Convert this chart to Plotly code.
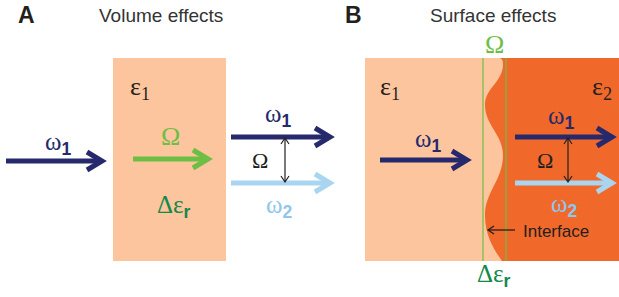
import plotly.graph_objects as go

# ---- content ----
panel_letters = ["A", "B"]
panel_titles = ["Volume effects", "Surface effects"]
SUBF = "<span style='font-family:Liberation Sans;font-weight:bold'>{}</span>"
greek_omega1 = "ω<sub>" + SUBF.format("1") + "</sub>"
greek_omega2 = "ω<sub>" + SUBF.format("2") + "</sub>"
greek_Omega = "Ω"
eps1 = "ε<sub>1</sub>"
eps2 = "ε<sub>2</sub>"
delta_eps = "Δε<sub>" + SUBF.format("r") + "</sub>"
interface_label = "Interface"

NAVY = "#262A6C"
GREEN = "#6DBE45"
DGREEN = "#13894A"
LBLUE = "#A9D5F1"
LBLUE_T = "#8EC6EC"
PEACH = "#FCC59D"
ORANGE = "#F0692A"
TXT = "#231F20"

fig = go.Figure()
shapes = []
ann = []

def rect(x0, y0, x1, y1, color):
    shapes.append(dict(type="rect", x0=x0, y0=y0, x1=x1, y1=y1,
                       fillcolor=color, line=dict(width=0), layer="below"))

def arrow(x0, x1, y, color, w=5, hx=15, hy=9):
    shapes.append(dict(type="line", x0=x0, y0=y, x1=x1 - 3, y1=y,
                       line=dict(color=color, width=w)))
    shapes.append(dict(type="path",
                       path=f"M {x1-hx},{y-hy} L {x1},{y} L {x1-hx},{y+hy}",
                       line=dict(color=color, width=w)))

def darrow(x, y0, y1, color):
    shapes.append(dict(type="line", x0=x, y0=y0, x1=x, y1=y1,
                       line=dict(color=color, width=1.2)))
    shapes.append(dict(type="path", path=f"M {x-4},{y0+6} L {x},{y0} L {x+4},{y0+6}",
                       line=dict(color=color, width=1.2)))
    shapes.append(dict(type="path", path=f"M {x-4},{y1-6} L {x},{y1} L {x+4},{y1-6}",
                       line=dict(color=color, width=1.2)))

def text(x, y, s, size, color=TXT, family="Liberation Serif", xanchor="center"):
    ann.append(dict(x=x, y=y, text=s, showarrow=False, xanchor=xanchor, yanchor="middle",
                    font=dict(size=size, color=color, family=family)))

OM = 25   # omega size
EP = 26   # epsilon size
GO = 26   # green Omega size
BO = 22   # black Omega size
DE = 25   # delta-eps size

# ---------- Panel A ----------
text(26, 15, f"<b>{panel_letters[0]}</b>", 23, family="Liberation Sans")
text(161, 15, panel_titles[0], 19, color="#333", family="Liberation Sans")
rect(113, 58, 226, 261, PEACH)
text(140, 88, eps1, EP)
arrow(6, 102, 161, NAVY)
text(58, 143, greek_omega1, OM, color=NAVY)
arrow(133, 208, 159, GREEN)
text(170, 136, greek_Omega, GO, color=GREEN)
text(174, 206, delta_eps, DE, color=DGREEN)
arrow(231, 330, 137, NAVY)
text(278, 115, greek_omega1, OM, color=NAVY)
arrow(231, 330, 183, LBLUE)
text(279, 206, greek_omega2, OM, color=LBLUE_T)
darrow(285, 138, 182, TXT)
text(260, 160, greek_Omega, BO, color=TXT)

# ---------- Panel B ----------
text(353, 15, f"<b>{panel_letters[1]}</b>", 23, family="Liberation Sans")
text(493, 15, panel_titles[1], 19, color="#333", family="Liberation Sans")
rect(365, 58, 619, 261, PEACH)
shapes.append(dict(type="path",
                   path=("M 619,58 L 500,58 Q 503,59 503,64 "
                         "C 503,82 485,88 485,105 "
                         "C 485,125 503,135 503,155 "
                         "C 503,180 485,192 485,215 "
                         "C 485,238 496,252 502,261 L 619,261 Z"),
                   fillcolor=ORANGE, line=dict(width=0), layer="below"))
shapes.append(dict(type="line", x0=483, y0=58, x1=483, y1=261, line=dict(color=GREEN, width=1.2)))
shapes.append(dict(type="line", x0=506, y0=58, x1=506, y1=261, line=dict(color=GREEN, width=1.2)))
text(494, 44, greek_Omega, GO, color=GREEN)
text(494, 275, delta_eps, DE, color=DGREEN)
text(390, 88, eps1, EP)
text(602, 88, eps2, EP)
arrow(380, 467, 160, NAVY)
text(428, 140, greek_omega1, OM, color=NAVY)
arrow(515, 612, 137, NAVY)
text(561, 117, greek_omega1, OM, color=NAVY)
arrow(515, 612, 183, LBLUE)
text(564, 205, greek_omega2, OM, color=LBLUE_T)
darrow(568, 138, 182, TXT)
text(545, 160, greek_Omega, BO, color=TXT)
shapes.append(dict(type="line", x0=488, y0=230, x1=515, y1=230, line=dict(color=TXT, width=1.3)))
shapes.append(dict(type="path", path="M 494,226 L 488,230 L 494,234", line=dict(color=TXT, width=1.3)))
text(521, 231, interface_label, 17, family="Liberation Sans", xanchor="left")

fig.update_layout(
    width=619, height=297,
    margin=dict(l=0, r=0, t=0, b=0),
    paper_bgcolor="white", plot_bgcolor="white",
    xaxis=dict(range=[0, 619], visible=False, fixedrange=True),
    yaxis=dict(range=[297, 0], visible=False, fixedrange=True),
    shapes=shapes, annotations=ann, showlegend=False,
)
fig.write_html("out.html", config={"displayModeBar": False},
               post_script="document.body.style.margin='0';document.body.style.overflow='hidden';")
